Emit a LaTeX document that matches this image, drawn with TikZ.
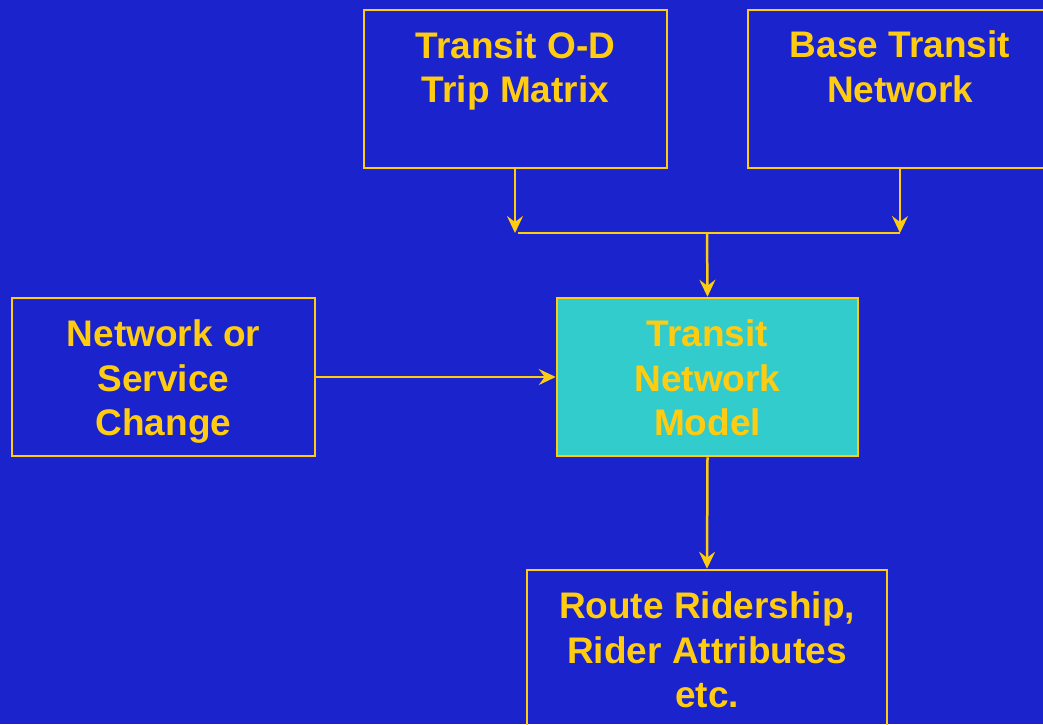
\documentclass[tikz,border=0pt]{standalone}
\usepackage{fontspec}
\setmainfont{Liberation Sans}
\usetikzlibrary{arrows.meta}
\definecolor{bgblue}{HTML}{1A23CC}
\definecolor{ylw}{HTML}{FFCC11}
\definecolor{cyanfill}{HTML}{33CCCC}
\begin{document}
\begin{tikzpicture}[x=1pt,y=-1pt,
  box/.style={draw=ylw,line width=2.5pt,minimum width=#1,minimum height=158pt,inner sep=0pt},
  box/.default=303pt,
  lbl/.style={text=ylw,font=\fontsize{37}{44.5}\selectfont\bfseries,align=center,inner sep=0pt},
  conn/.style={draw=ylw,line width=2.5pt},
  arr/.style={conn,-{Stealth[length=17pt,width=16pt,inset=6pt]}}]
\fill[bgblue] (0,0) rectangle (1043,724);
\useasboundingbox (0,0) rectangle (1043,724);
\node[box] (od) at (515.5,89) {};
\node[lbl] (odt) at (515.5,71) {Transit O-D\\Trip Matrix};
\node[box=304pt] (base) at (900,89) {};
\node[lbl] (baset) at (900,67) {Base Transit\\Network};
\node[box] (chg) at (163.5,377) {};
\node[lbl] (chgt) at (163.5,382) {Network or\\Service\\Change};
\node[box=301pt,fill=cyanfill] (model) at (707.5,377) {};
\node[lbl] (modelt) at (707.5,378) {Transit\\Network\\Model};
\node[box=360pt,minimum height=170pt] (out) at (707,655) {};
\node[lbl] (outt) at (707,650) {Route Ridership,\\Rider Attributes\\etc.};
\coordinate (j1) at (515,233);
\coordinate (j2) at (900,233);
\coordinate (jm) at (707,233);
\draw[arr] (od.south -| j1) -- (j1);
\draw[arr] (base.south -| j2) -- (j2);
\draw[conn] ([xshift=3pt]j1) -- (j2);
\draw[arr] (jm) -- (model.north);
\draw[arr] (chg.east) -- (model.west);
\draw[arr] (model.south) -- (out.north);
\end{tikzpicture}
\end{document}
